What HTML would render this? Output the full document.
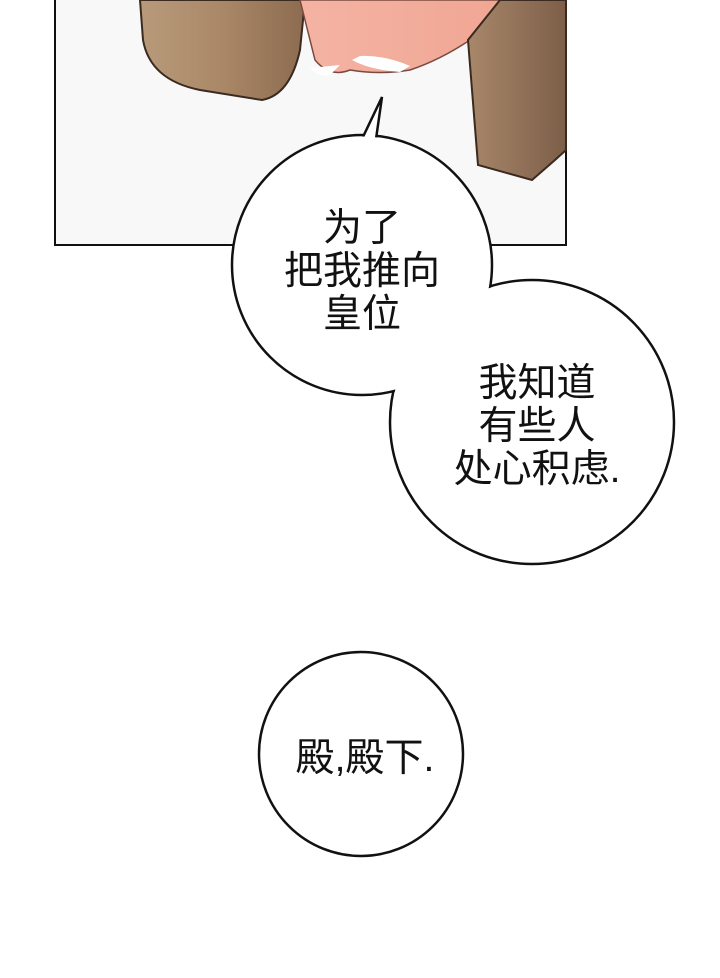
<!DOCTYPE html>
<html><head><meta charset="utf-8"><style>
body{margin:0;width:720px;height:978px;background:#fff;overflow:hidden;position:relative;font-family:"Liberation Sans","Noto Sans CJK SC",sans-serif}
.t{position:absolute;text-align:center;font-size:39px;line-height:43px;color:#111;width:320px}
</style></head><body>
<svg width="720" height="978" style="position:absolute;left:0;top:0">
<defs>
<linearGradient id="b1" x1="0" x2="1"><stop offset="0" stop-color="#b89a7a"/><stop offset="0.5" stop-color="#a98867"/><stop offset="1" stop-color="#8c6b50"/></linearGradient>
<linearGradient id="b2" x1="0" x2="1"><stop offset="0" stop-color="#a8876a"/><stop offset="1" stop-color="#7d5e48"/></linearGradient>
<linearGradient id="p" x1="0" x2="1"><stop offset="0" stop-color="#f5b3a3"/><stop offset="1" stop-color="#f0a693"/></linearGradient>
</defs>
<rect x="55" y="-5" width="511" height="250" fill="#f8f8f8" stroke="#111" stroke-width="2"/>
<path d="M140 0 L143 40 Q150 80 200 90 L262 100 Q290 95 300 50 L305 0Z" fill="url(#b1)" stroke="#3a2a20" stroke-width="2"/>
<path d="M300 0 L315 60 Q330 78 350 70 Q380 75 410 70 Q440 60 470 40 L510 0Z" fill="url(#p)" stroke="#7a4a40" stroke-width="1.5"/>
<path d="M310 68 Q320 78 330 75 L340 65Z M352 60 Q370 70 400 72 L410 66 Q385 55 360 56Z" fill="#fff"/>
<path d="M468 40 L478 165 L532 180 L555 160 L566 150 L566 0 L500 0Z" fill="url(#b2)" stroke="#3a2a20" stroke-width="2"/>
<circle cx="532" cy="422" r="142" fill="#fff" stroke="#111" stroke-width="2.5"/>
<circle cx="362" cy="265" r="130" fill="#fff" stroke="#111" stroke-width="2.5"/>
<path d="M362 139 L382 97 L376 139Z" fill="#fff" stroke="#111" stroke-width="2.5"/>
<rect x="364" y="138" width="11" height="6" fill="#fff"/>
<circle cx="532" cy="422" r="140.5" fill="#fff"/>
<circle cx="362" cy="265" r="128.5" fill="#fff"/>
<circle cx="361" cy="754" r="102" fill="#fff" stroke="#111" stroke-width="2.5"/>
</svg>
<div class="t" style="left:202px;top:207px">为了<br>把我推向<br>皇位</div>
<div class="t" style="left:377px;top:362px">我知道<br>有些人<br>处心积虑.</div>
<div class="t" style="left:205px;top:737px">殿,殿下.</div>
</body></html>
